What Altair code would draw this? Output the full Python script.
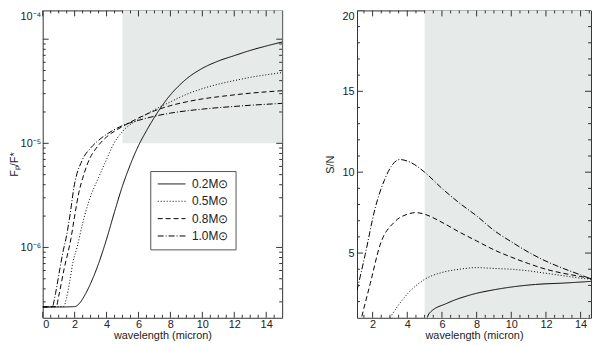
import altair as alt
import pandas as pd

# ---------------- data ----------------
masses = ["0.2M⊙", "0.5M⊙", "0.8M⊙", "1.0M⊙"]
dash_styles = [[1, 0], [1, 2], [5, 3], [6, 2, 1, 2]]

# Left panel: Fp/F* versus wavelength (micron)
l_wl_02 = [0, 1, 2, 2.3, 2.6, 3.0, 3.5, 4.0, 4.5, 5.0, 5.5, 6.0, 6.5, 7.0, 7.5, 8.0, 8.5, 9, 10, 11, 12, 13, 14, 15]
l_fr_02 = [2.68e-7, 2.68e-7, 2.7e-7, 2.9e-7, 3.4e-7, 4.5e-7, 7e-7, 1.2e-6, 2.2e-6, 3.9e-6, 6.3e-6, 9.5e-6,
           1.32e-5, 1.78e-5, 2.32e-5, 2.92e-5, 3.53e-5, 4.15e-5, 5.25e-5, 6.17e-5, 6.95e-5, 7.8e-5, 8.6e-5, 9.4e-5]
l_wl_05 = [0, 1.3, 1.5, 1.7, 1.9, 2.15, 2.5, 2.9, 3.5, 4.0, 4.4, 5.0, 6.0, 7.0, 8.0, 9, 10, 11, 12, 13, 14, 15]
l_fr_05 = [2.68e-7, 2.7e-7, 3.3e-7, 4.8e-7, 7.3e-7, 1.0e-6, 1.7e-6, 2.8e-6, 4.7e-6, 7.0e-6, 9.6e-6, 1.3e-5,
           1.7e-5, 2.1e-5, 2.5e-5, 2.95e-5, 3.35e-5, 3.7e-5, 4.0e-5, 4.3e-5, 4.55e-5, 4.78e-5]
l_wl_08 = [0, 0.85, 1.0, 1.35, 1.77, 2.0, 2.27, 2.5, 2.83, 3.5, 4.0, 5.0, 6.0, 7.0, 8, 9, 10, 11, 12, 13, 14, 15]
l_fr_08 = [2.68e-7, 2.7e-7, 3.4e-7, 6.3e-7, 1.22e-6, 2.0e-6, 3.4e-6, 4.6e-6, 6.5e-6, 9.6e-6, 1.15e-5, 1.45e-5,
           1.75e-5, 2.05e-5, 2.3e-5, 2.5e-5, 2.67e-5, 2.8e-5, 2.92e-5, 3.03e-5, 3.12e-5, 3.2e-5]
l_wl_10 = [0, 0.6, 0.8, 1.08, 1.3, 1.46, 1.7, 1.96, 2.5, 3.0, 3.5, 4.0, 5.0, 6.0, 7.0, 8, 9, 10, 11, 12, 13, 14, 15]
l_fr_10 = [2.68e-7, 2.7e-7, 3.6e-7, 6.3e-7, 9.5e-7, 1.22e-6, 2.0e-6, 3.8e-6, 7.0e-6, 9.0e-6, 1.07e-5, 1.22e-5,
           1.48e-5, 1.66e-5, 1.82e-5, 1.95e-5, 2.05e-5, 2.13e-5, 2.2e-5, 2.26e-5, 2.32e-5, 2.37e-5, 2.42e-5]

# Right panel: S/N versus wavelength (micron)
r_wl_02 = [5.15, 5.27, 6.3, 7.6, 9.1, 10, 11.4, 13.1, 14.6]
r_sn_02 = [1.0, 1.28, 1.9, 2.4, 2.75, 2.9, 3.06, 3.15, 3.25]
r_wl_05 = [3.0, 3.5, 4.03, 5.04, 6, 7, 8, 9, 10, 11, 12, 13, 14, 14.6]
r_sn_05 = [1.0, 1.8, 2.5, 3.4, 3.8, 4.0, 4.1, 4.05, 4.0, 3.9, 3.75, 3.6, 3.45, 3.38]
r_wl_08 = [1.38, 1.5, 1.86, 2.43, 3.28, 4.0, 4.5, 5.0, 6.0, 7.0, 8.0, 9.0, 10, 11, 12, 13, 14, 14.6]
r_sn_08 = [1.08, 1.6, 3.1, 5.5, 6.94, 7.4, 7.5, 7.4, 6.9, 6.3, 5.75, 5.2, 4.75, 4.35, 4.0, 3.75, 3.55, 3.42]
r_wl_10 = [1.1, 1.57, 2.14, 2.7, 3.1, 3.56, 4.2, 5.0, 6.0, 7.0, 8.0, 9.0, 10, 11, 12, 13, 14, 14.6]
r_sn_10 = [2.7, 4.9, 7.75, 9.56, 10.4, 10.78, 10.6, 10.0, 9.0, 8.1, 7.3, 6.4, 5.7, 5.05, 4.5, 4.05, 3.65, 3.4]

# axis ranges / ticks
l_xdom = [0, 15]
l_ydom = [2.11e-7, 1.89e-4]
r_xdom = [1.1, 14.6]
r_ydom = [1, 20]
l_xmajor = [0, 2, 4, 6, 8, 10, 12, 14]
l_xminor = [0.5, 1, 1.5, 2.5, 3, 3.5, 4.5, 5, 5.5, 6.5, 7, 7.5, 8.5, 9, 9.5, 10.5, 11, 11.5, 12.5, 13, 13.5, 14.5]
r_xmajor = [2, 4, 6, 8, 10, 12, 14]
r_xminor = [1.5, 2.5, 3, 3.5, 4.5, 5, 5.5, 6.5, 7, 7.5, 8.5, 9, 9.5, 10.5, 11, 11.5, 12.5, 13, 13.5, 14.5]
l_ymajor = [1e-6, 1e-5, 1e-4]
l_yminor = [3e-7, 4e-7, 5e-7, 6e-7, 7e-7, 8e-7, 9e-7,
            2e-6, 3e-6, 4e-6, 5e-6, 6e-6, 7e-6, 8e-6, 9e-6,
            2e-5, 3e-5, 4e-5, 5e-5, 6e-5, 7e-5, 8e-5, 9e-5]
l_ylabels = [1e-6, 1e-5, 1.89e-4]
r_ymajor = [5, 10, 15, 20]
r_yminor = [2, 3, 4, 6, 7, 8, 9, 11, 12, 13, 14, 16, 17, 18, 19]
shade_left = {"x0": [5], "x1": [15], "y0": [1e-5], "y1": [1.89e-4]}
shade_right = {"x0": [5], "x1": [14.6], "y0": [1], "y1": [20]}

# ---------------- layout / style ----------------
W1, W2, H = 241.5, 236, 310
FRAME = "#333333"
SHADE = "#e6eae8"
FONT = "Liberation Sans"


def make_df(wls, vals):
    rows = []
    for m, w, v in zip(masses, wls, vals):
        for a, b in zip(w, v):
            rows.append({"wl": a, "val": b, "mass": m})
    return pd.DataFrame(rows)


def tick_layers(xs, ys, xax, yax, xmaj, xmin, ymaj, ymin, W):
    layers = []
    for vals, size in [(xmaj, 6), (xmin, 3)]:
        base = alt.Chart(pd.DataFrame({"t": vals})).mark_rule(color=FRAME, strokeWidth=1)
        layers.append(base.encode(x=alt.X("t:Q", scale=xs, axis=xax),
                                  y=alt.value(H), y2=alt.value(H - size)))
        layers.append(base.encode(x=alt.X("t:Q", scale=xs, axis=xax),
                                  y=alt.value(0), y2=alt.value(size)))
    for vals, size in [(ymaj, 6), (ymin, 3)]:
        base = alt.Chart(pd.DataFrame({"t": vals})).mark_rule(color=FRAME, strokeWidth=1, clip=True)
        layers.append(base.encode(y=alt.Y("t:Q", scale=ys, axis=yax),
                                  x=alt.value(0), x2=alt.value(size)))
        layers.append(base.encode(y=alt.Y("t:Q", scale=ys, axis=yax),
                                  x=alt.value(W), x2=alt.value(W - size)))
    return layers


dash_scale = alt.Scale(domain=masses, range=dash_styles)

# ---- left panel ----
xs_l = alt.Scale(domain=l_xdom, nice=False, zero=False)
ys_l = alt.Scale(type="log", domain=l_ydom, nice=False)
xax_l = alt.Axis(values=l_xmajor, ticks=False, domain=False, grid=False,
                 title="wavelength (micron)", labelPadding=1, titlePadding=0)
yax_l = alt.Axis(values=l_ylabels, ticks=False, domain=False, grid=False,
                 labelFlush=True, labelPadding=2, titlePadding=0, title="Fₚ/F*",
                 labelExpr="datum.value > 5e-5 ? '10⁻⁴' : (datum.value > 5e-6 ? '10⁻⁵' : '10⁻⁶')")

shade_l = alt.Chart(pd.DataFrame(shade_left)).mark_rect(color=SHADE).encode(
    x=alt.X("x0:Q", scale=xs_l, axis=xax_l), x2="x1:Q",
    y=alt.Y("y0:Q", scale=ys_l, axis=yax_l), y2="y1:Q")

lines_l = alt.Chart(make_df([l_wl_02, l_wl_05, l_wl_08, l_wl_10],
                            [l_fr_02, l_fr_05, l_fr_08, l_fr_10])).mark_line(
    color="black", strokeWidth=1, clip=True, interpolate="monotone").encode(
    x=alt.X("wl:Q", scale=xs_l, axis=xax_l),
    y=alt.Y("val:Q", scale=ys_l, axis=yax_l),
    strokeDash=alt.StrokeDash("mass:N", scale=dash_scale,
                              legend=alt.Legend(title=None, orient="none", legendX=108.5, legendY=162,
                                                symbolType="stroke", symbolSize=784,
                                                symbolStrokeColor="black", symbolStrokeWidth=1,
                                                strokeColor="#555555", fillColor="white",
                                                padding=7, labelFontSize=12, labelOffset=6,
                                                clipHeight=12, rowPadding=5.5,
                                                labelFont=FONT, labelColor="#222222")),
)

left = alt.layer(shade_l, lines_l,
                 *tick_layers(xs_l, ys_l, xax_l, yax_l, l_xmajor, l_xminor, l_ymajor, l_yminor, W1)
                 ).properties(width=W1, height=H)

# ---- right panel ----
xs_r = alt.Scale(domain=r_xdom, nice=False, zero=False)
ys_r = alt.Scale(domain=r_ydom, nice=False, zero=False)
xax_r = alt.Axis(values=r_xmajor, ticks=False, domain=False, grid=False,
                 title="wavelength (micron)", labelPadding=1, titlePadding=0)
yax_r = alt.Axis(values=r_ymajor, ticks=False, domain=False, grid=False,
                 labelFlush=True, labelPadding=3, titlePadding=6, title="S/N")

shade_r = alt.Chart(pd.DataFrame(shade_right)).mark_rect(color=SHADE).encode(
    x=alt.X("x0:Q", scale=xs_r, axis=xax_r), x2="x1:Q",
    y=alt.Y("y0:Q", scale=ys_r, axis=yax_r), y2="y1:Q")

lines_r = alt.Chart(make_df([r_wl_02, r_wl_05, r_wl_08, r_wl_10],
                            [r_sn_02, r_sn_05, r_sn_08, r_sn_10])).mark_line(
    color="black", strokeWidth=1, clip=True, interpolate="monotone").encode(
    x=alt.X("wl:Q", scale=xs_r, axis=xax_r),
    y=alt.Y("val:Q", scale=ys_r, axis=yax_r),
    strokeDash=alt.StrokeDash("mass:N", scale=dash_scale, legend=None),
)

right = alt.layer(shade_r, lines_r,
                  *tick_layers(xs_r, ys_r, xax_r, yax_r, r_xmajor, r_xminor, r_ymajor, r_yminor, W2)
                  ).properties(width=W2, height=H)

chart = alt.hconcat(left, right, spacing=75, bounds="flush").properties(
    padding={"left": 0, "top": 0, "right": 0, "bottom": 0},
).configure_view(stroke=FRAME, strokeWidth=1).configure_axis(
    labelFont=FONT, titleFont=FONT, labelFontSize=11, titleFontSize=11,
    labelColor="#222222", titleColor="#222222", titleFontWeight="normal",
)

chart.save("out.html", embed_options={"renderer": "svg", "actions": False})
